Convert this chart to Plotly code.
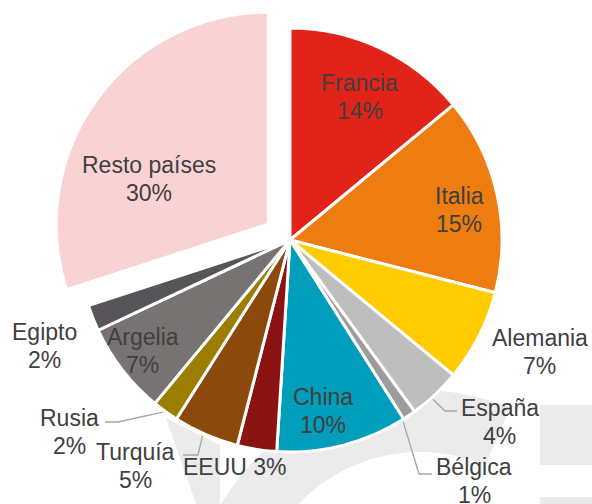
import math
import plotly.graph_objects as go

# ---------------- data ----------------
labels = ["Francia", "Italia", "Alemania", "España", "Bélgica", "China",
          "EEUU", "Turquía", "Rusia", "Argelia", "Egipto", "Resto países"]
values = [14, 15, 7, 4, 1, 10, 3, 5, 2, 7, 2, 30]
pct_text = ["14%", "15%", "7%", "4%", "1%", "10%", "3%", "5%", "2%", "7%", "2%", "30%"]

# ---------------- style ----------------
colors = ["#E2231A", "#EE7D11", "#FFCC00", "#BFBEBF", "#9D9B9D", "#009EBA",
          "#8B1413", "#8B4A0B", "#9B7D00", "#777373", "#58555A", "#F9D3D3"]
pulls = [0, 0, 0, 0, 0, 0, 0, 0, 0, 0, 0, 0.127]
# label placement: radius factor, angle tweak (deg), single line?
label_k = [0.75, 0.81, 1.29, 1.31, 1.43, 0.82, 1.10, 1.29, 1.38, 0.87, 1.26, 0.60]
label_dt = [0.8, 2.6, -2.9, -5.9, -3.2, 3.4, 4.6, 11.0, 13.0, 0.8, -1.8, -15.0]
single_line = [False] * 12
single_line[6] = True
# leader lines: slice index -> (start angle tweak, elbow px, end px)
leaders = {
    3: (1.3, (445, 411), (457, 411)),
    4: (2.3, (419, 474), (432, 474)),
    7: (0.7, (198, 455), (183, 455)),
    8: (0.5, (118, 422), (105, 422)),
}

W, H = 592, 504
CX, CY, R = 290.0, 240.0, 212.0
TEXT = "#404040"
FONT = "Liberation Sans, Arial, sans-serif"
FS = 23
LINE_GAP = 28


def px(x):
    return x / W


def py(y):
    return 1 - y / H


RP = R * (1 + max(pulls))
fig = go.Figure(go.Pie(
    labels=labels, values=values, sort=False, direction="clockwise", rotation=0,
    pull=pulls, textinfo="none", hoverinfo="skip",
    marker=dict(colors=colors, line=dict(color="white", width=3)),
    domain=dict(x=[px(CX - RP), px(CX + RP)], y=[py(CY + RP), py(CY - RP)]),
    showlegend=False,
))

total = sum(values)
cum = 0.0
mids = []
for v in values:
    mids.append((cum + v / 2) / total * 360.0)
    cum += v

annotations = []
for i, lab in enumerate(labels):
    cx, cy = CX, CY
    if pulls[i]:
        a = math.radians(mids[i])
        cx += R * pulls[i] * math.sin(a)
        cy -= R * pulls[i] * math.cos(a)
    a = math.radians(mids[i] + label_dt[i])
    lx = cx + R * label_k[i] * math.sin(a)
    ly = cy - R * label_k[i] * math.cos(a)
    if single_line[i]:
        lines = [(lab + " " + pct_text[i], ly)]
    else:
        lines = [(lab, ly - LINE_GAP / 2), (pct_text[i], ly + LINE_GAP / 2)]
    for t, yy in lines:
        annotations.append(dict(
            text=t, x=px(lx), y=py(yy), xref="paper", yref="paper",
            xanchor="center", yanchor="middle", showarrow=False,
            font=dict(family=FONT, size=FS, color=TEXT),
        ))

shapes = []
# faint watermark in the background
WM = "#EBEBEB"
shapes.append(dict(type="rect", xref="paper", yref="paper", layer="below",
                   x0=px(540), x1=px(600), y0=py(465), y1=py(405),
                   line=dict(width=0), fillcolor=WM))
shapes.append(dict(type="rect", xref="paper", yref="paper", layer="below",
                   x0=px(540), x1=px(600), y0=py(510), y1=py(497),
                   line=dict(width=0), fillcolor=WM))


def arc_pts(cx, cy, r, t0, t1, n=60):
    return [(cx + r * math.cos(math.radians(t0 + (t1 - t0) * k / n)),
             cy + r * math.sin(math.radians(t0 + (t1 - t0) * k / n))) for k in range(n + 1)]


band = arc_pts(420, 620, 230, 200, 293) + arc_pts(420, 620, 168, 293, 200)
path = "M " + " L ".join(f"{px(x):.5f},{py(y):.5f}" for x, y in band) + " Z"
shapes.append(dict(type="path", xref="paper", yref="paper", layer="below",
                   path=path, line=dict(width=0), fillcolor=WM))
shapes.append(dict(type="path", xref="paper", yref="paper", layer="below",
                   path=f"M {px(166)},{py(418)} L {px(220)},{py(445)} L {px(220)},{py(504)} L {px(196)},{py(504)} Z",
                   line=dict(width=0), fillcolor=WM))

# leader lines from slice edge to label
for i, (dt, elbow, end) in leaders.items():
    a = math.radians(mids[i] + dt)
    sx = CX + (R + 2) * math.sin(a)
    sy = CY - (R + 2) * math.cos(a)
    shapes.append(dict(
        type="path", xref="paper", yref="paper",
        path=f"M {px(sx)},{py(sy)} L {px(elbow[0])},{py(elbow[1])} L {px(end[0])},{py(end[1])}",
        line=dict(color="#A6A6A6", width=1.3),
    ))

fig.update_layout(
    width=W, height=H, margin=dict(l=0, r=0, t=0, b=0, autoexpand=False),
    paper_bgcolor="white", plot_bgcolor="white",
    annotations=annotations, shapes=shapes,
)

fig.write_html("out.html", config={"displayModeBar": False},
               post_script="document.body.style.margin='0';document.body.style.overflow='hidden';")
